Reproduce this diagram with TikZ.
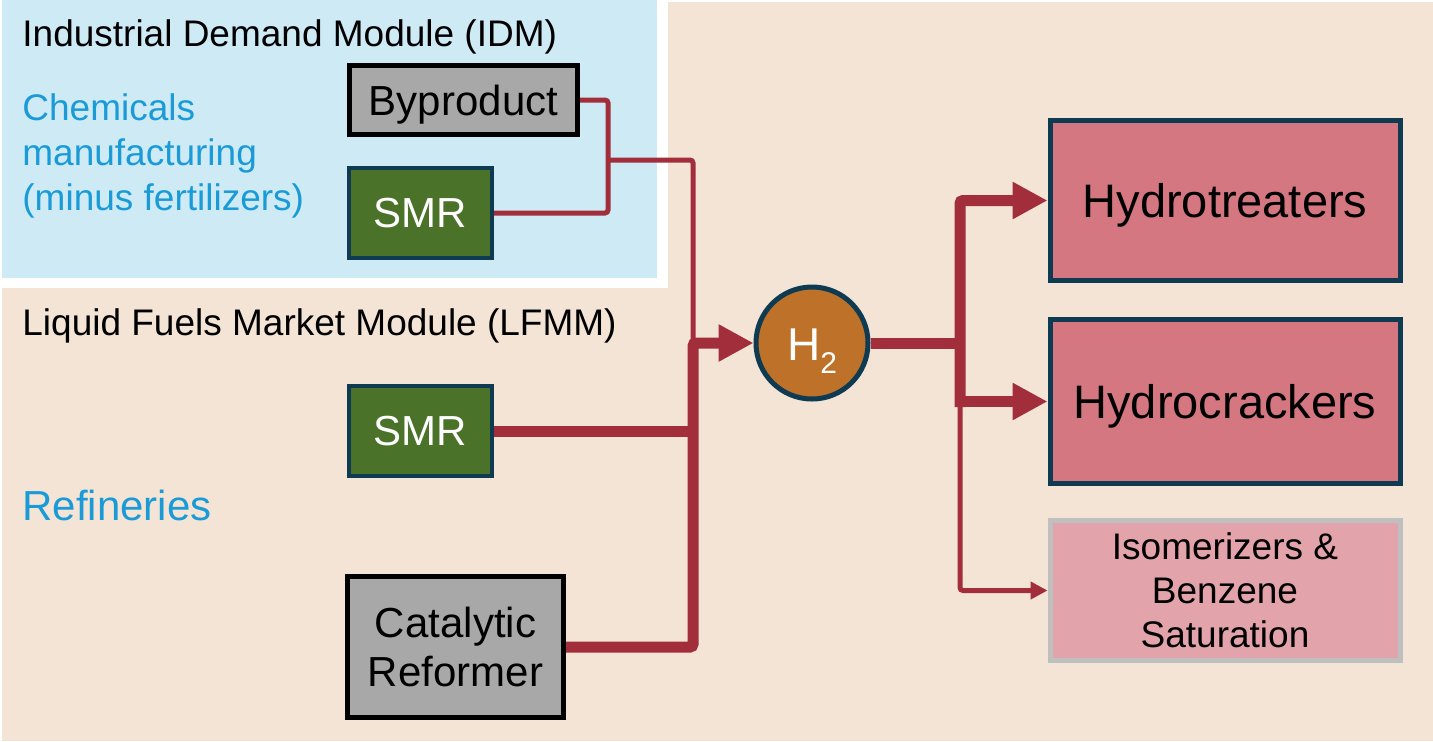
\documentclass[tikz,border=0pt]{standalone}
\usepackage{fontspec}
\setmainfont{Liberation Sans}
\usetikzlibrary{positioning,arrows.meta}
\definecolor{idmblue}{HTML}{CDEAF5}
\definecolor{lfmmtan}{HTML}{F3E4D6}
\definecolor{flowred}{HTML}{A22D3B}
\definecolor{smrgreen}{HTML}{4A7229}
\definecolor{navy}{HTML}{0E3A52}
\definecolor{procgray}{HTML}{A8A8A8}
\definecolor{htwo}{HTML}{BE7229}
\definecolor{unitpink}{HTML}{D57780}
\definecolor{isopink}{HTML}{E2A4AA}
\definecolor{isogray}{HTML}{BFBFBF}
\definecolor{labelblue}{HTML}{1A9BD7}
\begin{document}
\begin{tikzpicture}[x=0.5pt,y=-0.5pt]
    \tikzstyle{flow} = [draw=flowred,line width=5.5pt,rounded corners=1.5pt]
    \tikzstyle{thinflow} = [draw=flowred,line width=2.5pt,rounded corners=1.5pt]
    \tikzstyle{bigarrow} = [-{Triangle[length=17.5pt,width=17.5pt]}]
    \tikzstyle{smallarrow} = [-{Triangle[length=8.5pt,width=8.5pt]}]
       \tikzset{proc/.style = {rectangle, draw=black, line width=2.5pt, fill=procgray, text centered, align=center, inner sep=0pt, font=\fontsize{21}{24.5}\selectfont}, }
       \tikzset{smr/.style = {rectangle, draw=navy, line width=2pt, fill=smrgreen, text=white, minimum width=71.5pt, minimum height=45pt, inner sep=0pt, font=\fontsize{21}{24.5}\selectfont}, }
       \tikzset{hydro/.style = {rectangle, draw=navy, line width=2.5pt, fill=unitpink, text centered, minimum width=175pt, inner sep=0pt, text height=17pt, text depth=0pt, font=\fontsize{23.5}{28}\selectfont}, }
       \tikzset{modtitle/.style = {anchor=west, inner sep=0pt, font=\fontsize{18.5}{22.5}\selectfont} }
       \tikzset{sector/.style = {anchor=west, inner sep=0pt, text=labelblue, align=left} }

       % module areas
       \fill[white] (0,0) rectangle (1433,741);
       \fill[lfmmtan] (2,2) rectangle (1433,741);
       \fill[white] (0,0) rectangle (668,288);
       \fill[idmblue] (2,0) rectangle (657,278);
       \useasboundingbox (0,0) rectangle (1433,741);

       \node[modtitle] (idm) at (22,37) {Industrial Demand Module (IDM)};
       \node[sector, font=\fontsize{18.5}{22.5}\selectfont] (chem) at (22,156) {Chemicals\\manufacturing\\(minus fertilizers)};
       \node[modtitle] (lfmm) at (22,326) {Liquid Fuels Market Module (LFMM)};
       \node[sector, font=\fontsize{21}{25}\selectfont] (refin) at (22,505) {Refineries};

       \node[proc, minimum width=114pt, minimum height=34.5pt, text height=15pt, text depth=0pt] (byp) at (463.5,100) {Byproduct};
       \node[smr, below=14.5pt of byp.south west, anchor=north west] (smrA) {SMR};
       \node[smr] (smrB) at (420.5,431) {SMR};
       \node[proc, minimum width=108pt, minimum height=70.5pt] (cat) at (455.5,647) {Catalytic\\Reformer};

       \node[circle, draw=navy, line width=2.5pt, fill=htwo, text=white, minimum size=56pt, inner sep=0pt, text height=17pt, text depth=0pt, font=\fontsize{23}{28}\selectfont] (h2) at (812,343) {H\raisebox{-6.5pt}{\fontsize{15}{15}\selectfont 2}};

       \node[hydro, minimum height=80pt] (ht) at (1225,200.5) {Hydrotreaters};
       \node[hydro, minimum height=82pt, below=17pt of ht] (hc) {Hydrocrackers};
       \node[hydro, draw=isogray, fill=isopink, minimum height=70pt, align=center, text height=, text depth=, font=\fontsize{18.5}{22}\selectfont, below=16pt of hc] (iso) {Isomerizers \&\\Benzene\\Saturation};

       \coordinate (jIDM) at (608,160);
       \coordinate (jL) at (693,343);
       \coordinate (jR) at (960,343);

       \draw[thinflow] (byp.east) -| (jIDM) |- (smrA.east);
       \draw[thinflow] (jIDM) -| (jL);
       \draw[flow] (smrB.east) -- (smrB.east -| jL);
       \draw[flow,bigarrow] (cat.east) -| (jL) -- (h2.west);
       \draw[flow] (h2.east) -- (jR);
       \draw[flow,bigarrow,line cap=rect] (jR |- hc.west) |- (ht.west);
       \draw[flow,bigarrow] (jR |- hc.west) -- (hc.west);
       \draw[thinflow,smallarrow] (jR |- hc.west) |- (iso.west);

\end{tikzpicture}
\end{document}
